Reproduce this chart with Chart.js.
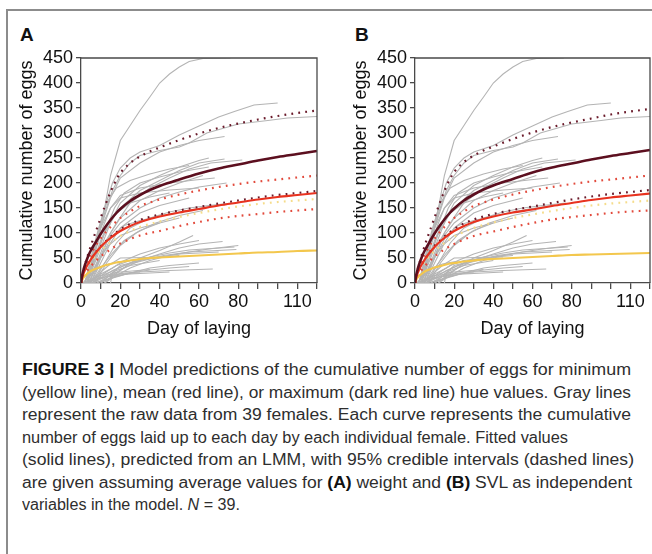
<!DOCTYPE html>
<html><head><meta charset="utf-8">
<script src="https://cdn.jsdelivr.net/npm/chart.js@4"></script>
<style>
html,body{margin:0;padding:0;background:#fff;width:652px;height:554px;overflow:hidden;font-family:"Liberation Sans",Arial,sans-serif;}
#frame{position:absolute;left:6px;top:9px;width:700px;height:600px;border-left:2px solid #8c8c8c;border-top:2px solid #8c8c8c;}
.panel{position:absolute;font-weight:bold;font-size:19px;color:#111;line-height:1;}
#cA{position:absolute;left:0;top:0;}
#cB{position:absolute;left:334px;top:0;}
#caption{position:absolute;left:22px;top:359px;font-size:16px;line-height:22.5px;color:#2e2e2e;white-space:nowrap;}
#caption span{display:inline-block;transform-origin:0 0;}
#caption b{color:#111;}
</style></head>
<body>
<div id="frame"></div>
<div class="panel" style="left:20px;top:25px;">A</div>
<div class="panel" style="left:355px;top:25px;">B</div>
<canvas id="cA" width="330" height="353"></canvas>
<canvas id="cB" width="318" height="353"></canvas>
<div id="caption">
<div><span><b>FIGURE 3 |</b> Model predictions of the cumulative number of eggs for minimum</span></div>
<div><span>(yellow line), mean (red line), or maximum (dark red line) hue values. Gray lines</span></div>
<div><span>represent the raw data from 39 females. Each curve represents the cumulative</span></div>
<div><span>number of eggs laid up to each day by each individual female. Fitted values</span></div>
<div><span>(solid lines), predicted from an LMM, with 95% credible intervals (dashed lines)</span></div>
<div><span>are given assuming average values for <b>(A)</b> weight and <b>(B)</b> SVL as independent</span></div>
<div><span>variables in the model. <i>N</i> = 39.</span></div>
</div>
<script>
// ---- data ----
const xTickLabels = [0, 20, 40, 60, 80, 110];
const days = [0,0.5,1,2,3,4,5,6,8,10,12,15,18,20,25,30,35,40,50,60,70,80,90,100,110,120];

// Panel A (weight)
const maxFitA  = [0,13,22,36,47,57,65,72,85,98,110,126,140,148,164,176,186,194,207,219,229,237,245,252,258,264];
const maxUpA   = [0,10,20,36,50,62,74,86,108,130,152,182,207,220,240,253,263,271,286,299,310,319,327,334,340,345];
const maxLowA  = [0,9,16,26,34,41,47,53,64,73,81,92,101,107,118,126,132,137,145,152,159,165,171,176,180,184];
const meanFitA = [0,9,16,26,34,41,47,53,63,72,80,90,99,104,114,122,128,133,141,148,155,161,167,172,176,180];
const meanUpA  = [0,11,20,33,43,51,58,65,78,89,99,112,123,130,143,154,161,167,177,185,192,198,203,207,211,215];
const meanLowA = [0,6,11,18,24,29,34,38,46,53,59,67,75,79,88,95,100,104,114,122,129,134,138,142,145,148];
const minFitA  = [0,5,9,14,18,21,24,26,29,32,35,38,41,42,45,48,50,51,53,55,57,59,61,62,64,65];
const minUpA   = [0,8,14,23,31,37,43,48,57,65,72,81,89,94,104,112,118,123,132,140,147,153,158,162,165,168];

// Panel B (SVL)
const maxFitB  = [0,13,22,36,47,57,65,72,86,99,111,127,141,149,165,177,187,195,208,221,231,239,247,254,260,266];
const maxUpB   = [0,10,20,36,50,63,75,87,109,131,153,184,209,222,242,255,265,273,288,301,312,321,329,337,343,348];
const maxLowB  = [0,9,16,26,34,41,47,53,64,74,82,93,102,108,119,127,133,138,146,153,160,167,173,178,182,186];
const meanFitB = [0,9,16,26,34,41,47,53,63,72,80,90,99,104,114,122,128,133,141,147,154,160,166,171,175,179];
const meanUpB  = [0,11,20,33,43,51,58,65,78,89,99,112,123,130,143,154,161,167,177,185,192,198,203,207,211,215];
const meanLowB = [0,6,11,18,24,29,34,38,46,53,59,67,74,78,87,94,99,103,112,120,127,132,136,140,143,145];
const minFitB  = [0,5,9,14,17,20,23,25,28,31,33,36,39,40,43,45,47,48,50,52,54,56,57,58,59,60];
const minUpB   = [0,8,14,23,31,37,43,48,56,64,71,80,88,93,102,110,116,121,130,137,144,150,155,159,162,165];

// Raw cumulative eggs per female: [day, eggs]
const females = [
 [[3,0],[6,40],[9,95],[12,150],[15,215],[20,285],[25,315],[30,345],[35,372],[40,400],[45,418],[50,432],[55,443],[62,449],[76,450]],
 [[2,0],[5,40],[8,90],[12,150],[16,200],[20,230],[25,250],[30,262],[40,275],[50,296],[60,314],[70,332],[78,343],[88,356],[100,360]],
 [[2,0],[5,35],[8,80],[12,140],[16,185],[20,215],[25,240],[30,255],[40,265],[50,272],[55,280],[64,300],[80,318],[95,325],[105,330],[120,333]],
 [[3,0],[6,45],[10,110],[15,170],[20,210],[30,240],[40,262],[50,275],[60,285],[73,293]],
 [[3,0],[8,50],[12,90],[16,130],[20,160],[30,195],[40,215],[50,232],[60,245],[65,250]],
 [[2,0],[6,40],[10,85],[15,130],[20,150],[30,185],[40,205],[50,225],[60,240],[73,248]],
 [[4,0],[8,40],[12,80],[18,120],[25,160],[35,190],[45,210],[55,228],[66,240],[82,246]],
 [[3,0],[7,45],[12,100],[17,150],[22,180],[30,200],[40,212],[50,222],[65,232]],
 [[5,0],[10,50],[15,100],[20,130],[30,165],[40,185],[50,200],[62,215]],
 [[4,0],[9,45],[14,90],[20,120],[30,150],[40,170],[50,182],[60,192],[74,200]],
 [[2,0],[6,60],[10,110],[15,150],[20,170],[30,180],[45,186],[60,190]],
 [[3,0],[7,50],[12,100],[18,140],[25,160],[35,172],[45,180]],
 [[5,0],[10,40],[15,80],[20,110],[30,140],[40,155],[55,170]],
 [[6,0],[12,40],[18,80],[25,110],[35,130],[45,142],[55,150],[65,155],[77,160]],
 [[4,0],[10,50],[16,95],[22,115],[30,125],[45,138],[58,148],[70,155]],
 [[7,0],[13,40],[20,75],[28,100],[38,120],[50,135],[62,145]],
 [[5,0],[10,30],[16,60],[22,85],[30,105],[40,120],[50,130]],
 [[3,0],[8,40],[14,75],[20,95],[30,110],[40,120]],
 [[3,0],[7,60],[11,110],[15,150],[20,175],[30,190],[45,200],[58,206],[68,210]],
 [[2,0],[5,50],[9,110],[13,160],[18,190],[25,205],[35,218],[45,228],[55,235]],
 [[10,0],[15,10],[20,25],[25,40],[30,50],[40,65],[50,82],[57,95]],
 [[8,0],[15,15],[22,30],[30,45],[40,58],[50,70],[60,78],[72,83]],
 [[12,0],[18,15],[25,30],[35,45],[45,55],[55,62],[65,68],[80,75]],
 [[5,0],[10,10],[16,25],[25,40],[35,52],[45,60],[55,66],[78,72]],
 [[3,0],[8,12],[15,22],[22,35],[32,45],[42,55],[55,62],[79,67]],
 [[10,0],[16,20],[20,35],[30,45],[40,52],[50,58],[70,62]],
 [[6,0],[12,20],[18,35],[25,45],[35,50],[50,55]],
 [[4,0],[8,15],[14,35],[20,50],[45,52]],
 [[8,0],[15,10],[25,20],[35,30],[45,35],[60,40]],
 [[5,0],[12,5],[18,12],[25,20],[35,26],[45,30],[55,33]],
 [[12,0],[16,15],[22,20],[30,22],[45,25],[67,28]],
 [[2,0],[6,5],[10,10],[16,15],[25,18],[45,22]],
 [[2,0],[5,8],[10,15],[18,18],[30,20]],
 [[1,0],[4,5],[8,10],[12,12],[20,15]],
 [[2,0],[5,5],[8,8],[12,10]],
 [[6,0],[12,12],[18,25],[25,35],[40,45]],
 [[4,0],[10,18],[16,30],[22,45],[30,58],[40,70],[50,78],[60,85]],
 [[15,0],[16,20],[20,22],[35,27]],
 [[1,0],[3,10],[6,20],[9,30],[14,38],[22,44]]
];

// ---- styles ----
const FAMILY = '"Liberation Sans", Arial, sans-serif';
const AXIS = '#4a4a4a';
const DARK = '#5c0f1f', RED = '#e8321f', YEL = '#f3c74d';
const DARKDOT = '#6a1a2a', REDDOT = '#e24a3c', YELDOT = '#f5dc8a';

function pts(arr){ return days.map((d,i)=>({x:d, y:arr[i]})); }

const frame = {
  id:'frame',
  afterDraw(chart){
    const {ctx, chartArea:a} = chart;
    ctx.save(); ctx.strokeStyle = AXIS; ctx.lineWidth = 1.3;
    ctx.beginPath(); ctx.moveTo(a.left, a.top); ctx.lineTo(a.right, a.top); ctx.lineTo(a.right, a.bottom); ctx.stroke();
    ctx.restore();
  }
};

function build(id, fit, rightPad){
  const ds = [];
  const solid = (arr, c, w) => ({data:pts(arr), borderColor:c, borderWidth:w, pointRadius:0, fill:false, cubicInterpolationMode:'monotone', order:0});
  const dotted = (arr, c) => ({data:pts(arr), borderColor:c, borderWidth:2.2, borderDash:[1.8,5.2], pointRadius:0, fill:false, cubicInterpolationMode:'monotone', order:1});
  ds.push(dotted(fit.maxUp, DARKDOT));
  ds.push(dotted(fit.maxLow, DARKDOT));
  ds.push(dotted(fit.meanUp, REDDOT));
  ds.push(dotted(fit.meanLow, REDDOT));
  ds.push(dotted(fit.minUp, YELDOT));
  ds.push(solid(fit.maxFit, DARK, 2.6));
  ds.push(solid(fit.meanFit, RED, 2.2));
  ds.push(solid(fit.minFit, YEL, 2.2));
  females.forEach(f => ds.push({data:f.map(p=>({x:p[0], y:p[1]})), borderColor:'#b4b4b4', borderWidth:1.1, pointRadius:0, tension:0, fill:false, order:2}));
  return new Chart(document.getElementById(id), {
    type:'line',
    data:{datasets:ds},
    plugins:[frame],
    options:{
      responsive:false, animation:false, devicePixelRatio:1,
      layout:{padding:{top:58, right:rightPad, left:0, bottom:0}},
      plugins:{legend:{display:false}, tooltip:{enabled:false}},
      scales:{
        x:{type:'linear', min:0, max:120,
          afterFit(s){ s.height = 70; },
          ticks:{stepSize:10, autoSkip:false, maxRotation:0, padding:2, color:'#111', font:{size:18, family:FAMILY},
            callback:(v)=> xTickLabels.includes(v) ? String(v) : ''},
          grid:{drawOnChartArea:false, drawTicks:true, tickLength:6, color:AXIS, lineWidth:1.3},
          border:{display:true, color:AXIS, width:1.3},
          title:{display:true, text:'Day of laying', color:'#111', font:{size:18, family:FAMILY}, padding:{top:0, bottom:13}}
        },
        y:{type:'linear', min:0, max:450,
          afterFit(s){ s.width = 81; },
          ticks:{stepSize:50, padding:3, color:'#111', font:{size:18, family:FAMILY}},
          grid:{drawOnChartArea:false, drawTicks:true, tickLength:5, color:AXIS, lineWidth:1.3},
          border:{display:true, color:AXIS, width:1.3},
          title:{display:true, text:'Cumulative number of eggs', color:'#111', font:{size:18, family:FAMILY}, padding:{top:16, bottom:0}}
        }
      }
    }
  });
}

build('cA', {maxFit:maxFitA, maxUp:maxUpA, maxLow:maxLowA, meanFit:meanFitA, meanUp:meanUpA, meanLow:meanLowA, minFit:minFitA, minUp:minUpA}, 13);
build('cB', {maxFit:maxFitB, maxUp:maxUpB, maxLow:maxLowB, meanFit:meanFitB, meanUp:meanUpB, meanLow:meanLowB, minFit:minFitB, minUp:minUpB}, 1);

// fit each caption line to the reference line widths
const lineWidths = [609, 609, 609, 546, 612, 610, 218];
document.querySelectorAll('#caption span').forEach((s, i) => {
  const w = s.getBoundingClientRect().width;
  s.style.transform = 'scaleX(' + (lineWidths[i] / w) + ')';
});
</script>
</body></html>
